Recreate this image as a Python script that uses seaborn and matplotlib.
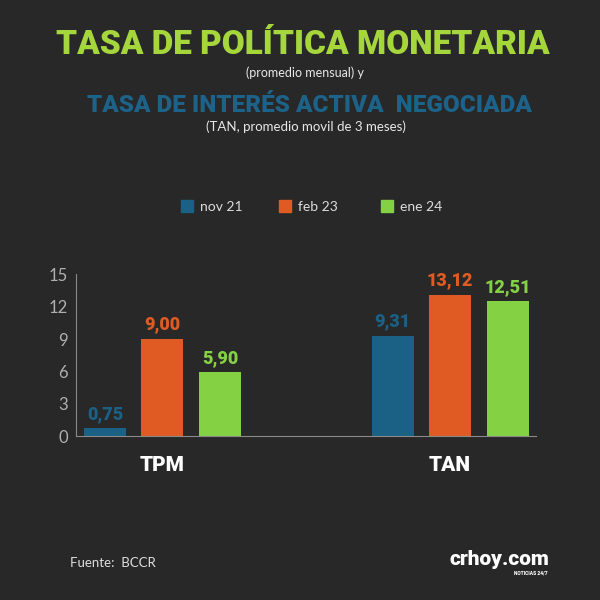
import matplotlib
matplotlib.use("Agg")
import matplotlib.pyplot as plt
import seaborn as sns
import pandas as pd
import numpy as np

# Data
groups = ["TPM", "TAN"]
periods = ["nov 21", "feb 23", "ene 24"]
tpm_values = [0.75, 9.00, 5.90]
tan_values = [9.31, 13.12, 12.51]
value_labels_tpm = ["0,75", "9,00", "5,90"]
value_labels_tan = ["9,31", "13,12", "12,51"]
y_ticks = [0, 3, 6, 9, 12, 15]

colors = ["#1a6185", "#e05b24", "#84d144"]
bg = "#282828"
heavy = ["Roboto", "DejaVu Sans"]

# slots: 3 bars, 2 empty, 3 bars
slot_names = ["TPM_a", "TPM_b", "TPM_c", "gap1", "gap2", "TAN_a", "TAN_b", "TAN_c"]
rows = []
for i, p in enumerate(periods):
    rows.append({"slot": slot_names[i], "period": p, "value": tpm_values[i], "label": value_labels_tpm[i]})
for i, p in enumerate(periods):
    rows.append({"slot": slot_names[5 + i], "period": p, "value": tan_values[i], "label": value_labels_tan[i]})
df = pd.DataFrame(rows)

sns.set_theme(style="dark")
plt.rcParams["font.family"] = ["Lato", "DejaVu Sans"]

fig = plt.figure(figsize=(6, 6), dpi=100, facecolor=bg)
ax = fig.add_axes([0.127, 0.273, 0.767, 0.27])
ax.set_facecolor(bg)

sns.barplot(data=df, x="slot", y="value", hue="period", order=slot_names,
            hue_order=periods, palette=colors, dodge=False, width=0.73,
            saturation=1, linewidth=0, ax=ax, legend=False)

# value labels
for _, r in df.iterrows():
    xi = slot_names.index(r["slot"])
    ax.text(xi, r["value"] + 0.5, r["label"], ha="center", va="bottom",
            color=colors[periods.index(r["period"])], fontsize=13,
            fontweight=900, family=heavy)

ax.set_xlim(-0.5, 7.5)
ax.set_ylim(0, 15)
ax.set_yticks(y_ticks)
ax.set_yticklabels([str(t) for t in y_ticks], fontsize=12, fontweight="normal")
ax.set_xticks(np.arange(0.5, 7.5, 1.0))
ax.set_xticklabels([])
ax.tick_params(axis="both", colors="#8a8a8a", width=0.8, pad=6)
ax.tick_params(axis="y", labelcolor="#b0b0b0", direction="in", length=10)
ax.tick_params(axis="x", direction="inout", length=6)
for s in ["top", "right"]:
    ax.spines[s].set_visible(False)
for s in ["left", "bottom"]:
    ax.spines[s].set_visible(True)
    ax.spines[s].set_color("#8a8a8a")
    ax.spines[s].set_linewidth(0.8)
ax.set_xlabel("")
ax.set_ylabel("")
ax.grid(False)

# group labels
ax.text(1, -1.8, groups[0], ha="center", va="top", color="white", fontsize=15,
        fontweight=900, family=heavy)
ax.text(6, -1.8, groups[1], ha="center", va="top", color="white", fontsize=15,
        fontweight=900, family=heavy)

# legend
leg_x = [0.312, 0.475, 0.645]
for i, p in enumerate(periods):
    fig.patches.append(plt.Rectangle((leg_x[i] - 0.01, 0.646), 0.02, 0.02,
                                     transform=fig.transFigure, color=colors[i]))
    fig.text(leg_x[i] + 0.022, 0.655, p, color="#dddddd", fontsize=10, va="center")

# titles
fig.text(0.505, 0.925, "TASA DE POLÍTICA MONETARIA", ha="center", va="center",
         color="#a5d63c", fontsize=24, fontweight=900, family=heavy)
fig.text(0.508, 0.878, "(promedio mensual) y", ha="center", va="center",
         color="#e8e8e8", fontsize=9)
fig.text(0.515, 0.825, "TASA DE INTERÉS ACTIVA  NEGOCIADA", ha="center", va="center",
         color="#1c6289", fontsize=17.5, fontweight=900, family=heavy)
fig.text(0.51, 0.789, "(TAN, promedio movil de 3 meses)", ha="center", va="center",
         color="#e8e8e8", fontsize=9.5)

# footer
fig.text(0.117, 0.062, "Fuente:  BCCR", ha="left", va="center", color="#dddddd", fontsize=9.5)
fig.text(0.915, 0.068, "crhoy.com", ha="right", va="center", color="white",
         fontsize=15, fontweight=900, family=heavy)
fig.text(0.912, 0.045, "NOTICIAS 24/7", ha="right", va="center", color="white",
         fontsize=3.5, fontweight=900, family=heavy)

fig.savefig("out.png", dpi=100, facecolor=bg)
